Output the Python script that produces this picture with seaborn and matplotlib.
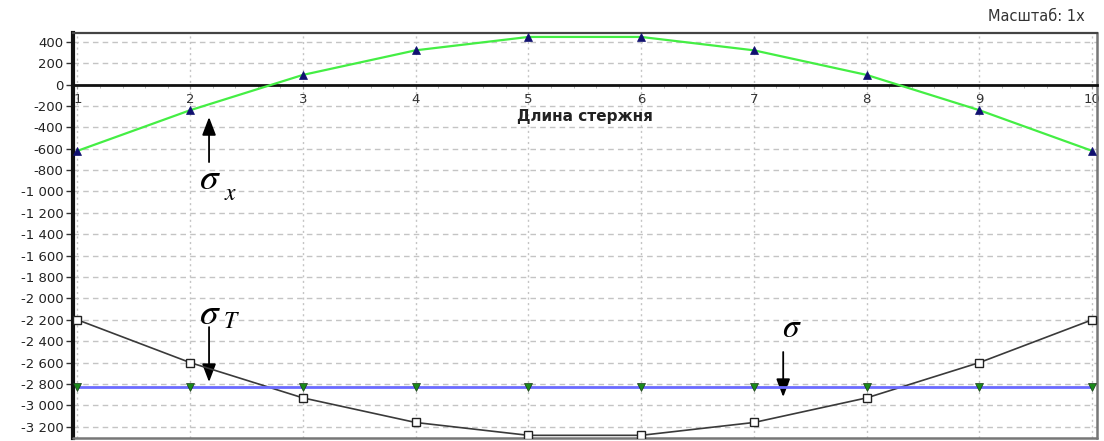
import matplotlib
matplotlib.use("Agg")
import matplotlib.pyplot as plt
import seaborn as sns
import pandas as pd
import numpy as np
from matplotlib.ticker import FixedLocator, MultipleLocator

# Stress distribution along the rod
positions = [1, 2, 3, 4, 5, 6, 7, 8, 9, 10]
sigma_x = [-620, -240, 90, 320, 445, 445, 320, 90, -240, -620]
sigma_t = [-2200, -2600, -2930, -3160, -3280, -3280, -3160, -2930, -2600, -2200]
sigma_total = [-2825, -2825, -2825, -2825, -2825, -2825, -2825, -2825, -2825, -2825]

y_ticks = list(range(-3200, 401, 200))
x_label = "Длина стержня"
scale_label = "Масштаб: 1x"

sns.set_style("white")
plt.rcParams["font.family"] = ["DejaVu Sans"]
plt.rcParams["mathtext.fontset"] = "stix"

fig = plt.figure(figsize=(11.04, 4.41), dpi=100)
ax = fig.add_axes([0.0661, 0.0068, 0.9276, 0.9184])

df = pd.DataFrame({"pos": positions, "sx": sigma_x, "st": sigma_t, "s": sigma_total})

sns.lineplot(data=df, x="pos", y="st", ax=ax, color="#3a3a3a", lw=1.2,
             marker="s", markersize=5.5, markerfacecolor="white",
             markeredgecolor="#222222", markeredgewidth=1.0, zorder=4)
sns.lineplot(data=df, x="pos", y="s", ax=ax, color="#6b6bff", lw=2.0,
             marker="v", markersize=6, markerfacecolor="#1a8a1a",
             markeredgecolor="#1a3a1a", markeredgewidth=0.5, zorder=5)
sns.lineplot(data=df, x="pos", y="sx", ax=ax, color="#44ee44", lw=1.6,
             marker="^", markersize=6, markerfacecolor="#101070",
             markeredgecolor="#101070", markeredgewidth=0.5, zorder=5)

ax.set_xlim(0.96, 10.044)
ax.set_ylim(-3305, 482)

# grid
ax.yaxis.set_major_locator(FixedLocator(y_ticks))
ax.xaxis.set_major_locator(FixedLocator(positions))
ax.xaxis.set_minor_locator(MultipleLocator(0.2))
ax.grid(True, axis="y", color="#c4c4c4", lw=1.0, linestyle=(0, (4, 3)), zorder=0)
ax.grid(True, axis="x", which="major", color="#c4c4c4", lw=1.0,
        linestyle=(0, (1.5, 2.5)), zorder=0)

ax.set_yticklabels([f"{v:,}".replace(",", " ") for v in y_ticks])
ax.set_xticklabels([str(p) for p in positions])

# x axis runs along zero
ax.spines["bottom"].set_position(("data", 0))
ax.spines["bottom"].set_color("#111111")
ax.spines["bottom"].set_linewidth(2.0)
ax.spines["bottom"].set_zorder(3)
ax.spines["left"].set_color("#111111")
ax.spines["left"].set_linewidth(3.0)
ax.spines["top"].set_color("#444444")
ax.spines["top"].set_linewidth(1.6)
ax.spines["right"].set_color("#777777")
ax.spines["right"].set_linewidth(1.8)
ax.plot([0, 1], [0, 0], transform=ax.transAxes, color="#777777", lw=1.8,
        clip_on=False, zorder=3)

ax.tick_params(axis="y", which="major", direction="out", length=5, width=1,
               color="#333333", labelsize=9.5, labelcolor="#222222", pad=2, left=True)
ax.tick_params(axis="x", which="major", direction="out", length=3, width=0.8,
               color="#999999", labelsize=9.5, labelcolor="#333333", pad=3, bottom=True)
ax.tick_params(axis="x", which="minor", direction="out", length=2, width=0.6,
               color="#aaaaaa", bottom=True)

ax.set_xlabel(x_label, fontsize=11, fontweight="bold", color="#222222", labelpad=2)
ax.set_ylabel("")

fig.text(0.983, 0.962, scale_label, ha="right", va="center", fontsize=10.5,
         color="#333333")

# stress annotations
arrow = dict(arrowstyle="-|>,head_width=0.42,head_length=1.1", color="black", lw=1.3,
             shrinkA=0, shrinkB=0)
ax.annotate("", xy=(2.167, -304), xytext=(2.167, -725), arrowprops=arrow)
ax.annotate("", xy=(2.167, -2782), xytext=(2.167, -2268), arrowprops=arrow)
ax.annotate("", xy=(7.26, -2922), xytext=(7.26, -2501), arrowprops=arrow)

sig = dict(color="black", va="baseline")
ax.text(2.08, -975, r"$\sigma$", fontsize=27, **sig)
ax.text(2.30, -1075, r"$x$", fontsize=17, **sig)
ax.text(2.08, -2235, r"$\sigma$", fontsize=27, **sig)
ax.text(2.29, -2280, r"$T$", fontsize=17, **sig)
ax.text(7.25, -2365, r"$\sigma$", fontsize=24, **sig)

fig.savefig("out.png", dpi=100)
